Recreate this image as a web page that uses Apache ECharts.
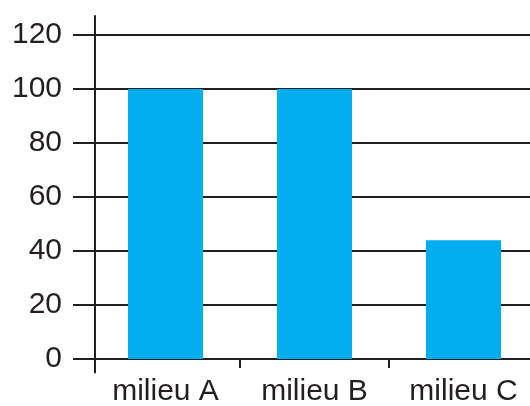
<!DOCTYPE html>
<html>
<head>
<meta charset="utf-8">
<script src="https://cdn.jsdelivr.net/npm/echarts@6/dist/echarts.min.js"></script>
<style>html,body{margin:0;padding:0;background:#fff;}#c{width:530px;height:406px;}</style>
</head>
<body>
<div id="c"></div>
<script>
var categories = ['milieu A', 'milieu B', 'milieu C'];
var values = [100, 100, 44];
var yTicks = [0, 20, 40, 60, 80, 100, 120];

var ink = '#231F20';
var chart = echarts.init(document.getElementById('c'), null, {renderer: 'canvas'});
chart.setOption({
  animation: false,
  backgroundColor: '#fff',
  grid: {left: 91, top: 16, width: 447, height: 356.5, containLabel: false, outerBoundsMode: 'none'},
  xAxis: {
    type: 'category',
    data: categories,
    axisLine: {onZero: true, lineStyle: {color: ink, width: 2}},
    axisTick: {show: true, length: 9, interval: function (i) { return i !== 0; }, lineStyle: {color: ink, width: 2}},
    axisLabel: {color: ink, fontSize: 30, fontFamily: 'Liberation Sans, Arial, sans-serif', margin: 4},
    splitLine: {show: false}
  },
  yAxis: {
    type: 'value',
    min: -5,
    max: 127,
    offset: -4,
    axisLine: {show: true, lineStyle: {color: ink, width: 2}},
    axisTick: {show: true, length: 22, customValues: yTicks, lineStyle: {color: ink, width: 2}},
    axisLabel: {color: ink, fontSize: 30, fontFamily: 'Liberation Sans, Arial, sans-serif', margin: 33, customValues: yTicks},
    splitLine: {show: true, lineStyle: {color: ink, width: 2}}
  },
  series: [{
    type: 'bar',
    data: values,
    barWidth: 75,
    itemStyle: {color: '#00AEEF'},
    z: 3
  }]
});
</script>
</body>
</html>
